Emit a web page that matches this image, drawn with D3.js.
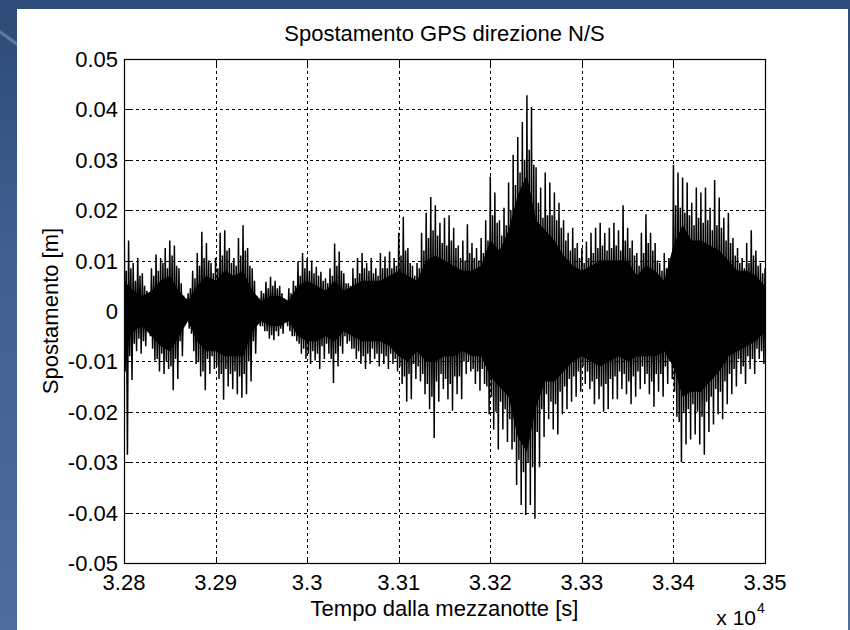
<!DOCTYPE html>
<html>
<head>
<meta charset="utf-8">
<script src="https://cdn.jsdelivr.net/npm/d3@7"></script>
<style>
  body { margin: 0; background: #33517d; }
  svg { display: block; }
  text { font-family: "Liberation Sans", Arial, sans-serif; fill: #000; }
</style>
</head>
<body>
<svg id="chart" width="850" height="630"></svg>
<script>
// time axis (s since midnight) and displacement axis (m)
const xTicks = [32800, 32900, 33000, 33100, 33200, 33300, 33400, 33500];
const xTickLabels = ['3.28', '3.29', '3.3', '3.31', '3.32', '3.33', '3.34', '3.35'];
const yTicks = [-0.05, -0.04, -0.03, -0.02, -0.01, 0, 0.01, 0.02, 0.03, 0.04, 0.05];
const yTickLabels = ['-0.05', '-0.04', '-0.03', '-0.02', '-0.01', '0', '0.01', '0.02', '0.03', '0.04', '0.05'];

// tall spike tips, one pair every 5 s starting at 32800 s
const peakTop = [
  0.0226, 0.0140, 0.0095, 0.0105, 0.0075, 0.0040, 0.0085, 0.0112, 0.0105, 0.0125,
  0.0140, 0.0130, 0.0085, 0.0030, 0.0035, 0.0080, 0.0115, 0.0157, 0.0135, 0.0095,
  0.0105, 0.0155, 0.0160, 0.0125, 0.0105, 0.0145, 0.0170, 0.0125, 0.0085, 0.0030,
  0.0040, 0.0058, 0.0068, 0.0060, 0.0050, 0.0025, 0.0045, 0.0060, 0.0098, 0.0115,
  0.0105, 0.0100, 0.0088, 0.0078, 0.0065, 0.0085, 0.0134, 0.0118, 0.0075, 0.0055,
  0.0085, 0.0105, 0.0115, 0.0095, 0.0105, 0.0085, 0.0115, 0.0108, 0.0118, 0.0105,
  0.0155, 0.0187, 0.0125, 0.0090, 0.0095, 0.0155, 0.0195, 0.0226, 0.0210, 0.0175,
  0.0185, 0.0190, 0.0165, 0.0130, 0.0140, 0.0172, 0.0135, 0.0125, 0.0145, 0.0180,
  0.0267, 0.0235, 0.0180, 0.0205, 0.0255, 0.0310, 0.0345, 0.0375, 0.0428, 0.0405,
  0.0285, 0.0245, 0.0275, 0.0255, 0.0235, 0.0215, 0.0180, 0.0155, 0.0165, 0.0135,
  0.0125, 0.0138, 0.0155, 0.0165, 0.0175, 0.0155, 0.0165, 0.0175, 0.0160, 0.0210,
  0.0165, 0.0140, 0.0115, 0.0155, 0.0192, 0.0155, 0.0135, 0.0095, 0.0115, 0.0105,
  0.0290, 0.0275, 0.0265, 0.0255, 0.0215, 0.0245, 0.0235, 0.0245, 0.0205, 0.0260,
  0.0225, 0.0185, 0.0195, 0.0145, 0.0125, 0.0105, 0.0135, 0.0160, 0.0120, 0.0095,
  0.0085
];
const peakBot = [
  -0.0285, -0.0137, -0.0080, -0.0085, -0.0070, -0.0050, -0.0098, -0.0120, -0.0125, -0.0115,
  -0.0157, -0.0135, -0.0090, -0.0020, -0.0045, -0.0105, -0.0130, -0.0157, -0.0125, -0.0115,
  -0.0135, -0.0176, -0.0150, -0.0155, -0.0165, -0.0172, -0.0165, -0.0140, -0.0085, -0.0030,
  -0.0040, -0.0055, -0.0058, -0.0050, -0.0045, -0.0030, -0.0050, -0.0060, -0.0085, -0.0095,
  -0.0105, -0.0098, -0.0115, -0.0095, -0.0085, -0.0143, -0.0110, -0.0085, -0.0065, -0.0075,
  -0.0095, -0.0105, -0.0115, -0.0105, -0.0095, -0.0110, -0.0105, -0.0115, -0.0105, -0.0120,
  -0.0145, -0.0180, -0.0175, -0.0135, -0.0140, -0.0165, -0.0195, -0.0252, -0.0180, -0.0155,
  -0.0175, -0.0198, -0.0165, -0.0175, -0.0125, -0.0120, -0.0145, -0.0158, -0.0145, -0.0205,
  -0.0235, -0.0275, -0.0235, -0.0260, -0.0275, -0.0345, -0.0385, -0.0405, -0.0385, -0.0412,
  -0.0310, -0.0250, -0.0215, -0.0235, -0.0245, -0.0205, -0.0195, -0.0180, -0.0170, -0.0160,
  -0.0145, -0.0155, -0.0185, -0.0175, -0.0200, -0.0195, -0.0175, -0.0175, -0.0155, -0.0165,
  -0.0185, -0.0170, -0.0155, -0.0145, -0.0165, -0.0190, -0.0160, -0.0170, -0.0145, -0.0135,
  -0.0210, -0.0300, -0.0265, -0.0255, -0.0245, -0.0265, -0.0285, -0.0240, -0.0225, -0.0205,
  -0.0215, -0.0185, -0.0165, -0.0150, -0.0125, -0.0145, -0.0115, -0.0125, -0.0095, -0.0105,
  -0.0060
];

// shorter spikes in between the tall ones, same 5 s spacing
const midTop = [
  0.0080, 0.0085, 0.0060, 0.0070, 0.0050, 0.0035, 0.0070, 0.0080, 0.0095, 0.0085,
  0.0110, 0.0090, 0.0055, 0.0025, 0.0045, 0.0065, 0.0090, 0.0105, 0.0100, 0.0075,
  0.0085, 0.0110, 0.0120, 0.0095, 0.0090, 0.0110, 0.0120, 0.0090, 0.0060, 0.0025,
  0.0035, 0.0045, 0.0050, 0.0045, 0.0035, 0.0020, 0.0035, 0.0050, 0.0070, 0.0085,
  0.0080, 0.0075, 0.0070, 0.0060, 0.0055, 0.0070, 0.0090, 0.0080, 0.0055, 0.0050,
  0.0065, 0.0075, 0.0085, 0.0080, 0.0075, 0.0070, 0.0085, 0.0085, 0.0085, 0.0090,
  0.0110, 0.0120, 0.0095, 0.0070, 0.0085, 0.0120, 0.0145, 0.0160, 0.0150, 0.0135,
  0.0130, 0.0140, 0.0125, 0.0105, 0.0100, 0.0115, 0.0105, 0.0100, 0.0115, 0.0140,
  0.0190, 0.0175, 0.0150, 0.0170, 0.0200, 0.0250, 0.0275, 0.0300, 0.0320, 0.0290,
  0.0215, 0.0185, 0.0190, 0.0190, 0.0180, 0.0165, 0.0140, 0.0120, 0.0125, 0.0105,
  0.0095, 0.0105, 0.0115, 0.0125, 0.0130, 0.0120, 0.0125, 0.0130, 0.0120, 0.0140,
  0.0125, 0.0110, 0.0090, 0.0115, 0.0135, 0.0120, 0.0100, 0.0080, 0.0085, 0.0080,
  0.0210, 0.0205, 0.0195, 0.0190, 0.0170, 0.0185, 0.0175, 0.0180, 0.0160, 0.0170,
  0.0165, 0.0140, 0.0135, 0.0110, 0.0095, 0.0085, 0.0095, 0.0110, 0.0090, 0.0075,
  0.0060
];
const midBot = [
  -0.0120, -0.0090, -0.0065, -0.0055, -0.0060, -0.0040, -0.0075, -0.0095, -0.0085, -0.0100,
  -0.0110, -0.0095, -0.0060, -0.0020, -0.0035, -0.0080, -0.0100, -0.0120, -0.0095, -0.0090,
  -0.0110, -0.0125, -0.0115, -0.0125, -0.0120, -0.0130, -0.0125, -0.0100, -0.0060, -0.0025,
  -0.0030, -0.0040, -0.0048, -0.0040, -0.0035, -0.0022, -0.0040, -0.0050, -0.0065, -0.0075,
  -0.0085, -0.0080, -0.0085, -0.0070, -0.0065, -0.0095, -0.0085, -0.0070, -0.0050, -0.0060,
  -0.0075, -0.0080, -0.0090, -0.0085, -0.0075, -0.0085, -0.0085, -0.0090, -0.0085, -0.0095,
  -0.0110, -0.0130, -0.0125, -0.0105, -0.0110, -0.0125, -0.0145, -0.0170, -0.0140, -0.0125,
  -0.0135, -0.0145, -0.0130, -0.0130, -0.0100, -0.0100, -0.0115, -0.0120, -0.0115, -0.0150,
  -0.0170, -0.0200, -0.0180, -0.0195, -0.0215, -0.0260, -0.0295, -0.0320, -0.0300, -0.0310,
  -0.0240, -0.0195, -0.0165, -0.0180, -0.0185, -0.0160, -0.0150, -0.0135, -0.0130, -0.0120,
  -0.0110, -0.0120, -0.0140, -0.0135, -0.0150, -0.0145, -0.0135, -0.0130, -0.0120, -0.0125,
  -0.0140, -0.0130, -0.0120, -0.0110, -0.0125, -0.0140, -0.0125, -0.0125, -0.0110, -0.0100,
  -0.0160, -0.0220, -0.0200, -0.0195, -0.0185, -0.0200, -0.0210, -0.0180, -0.0170, -0.0155,
  -0.0160, -0.0140, -0.0125, -0.0115, -0.0095, -0.0110, -0.0090, -0.0095, -0.0075, -0.0080,
  -0.0050
];

// solid middle of the trace, one value every 10 s
const coreTop = [
  0.006, 0.004, 0.003, 0.004, 0.006, 0.007, 0.004, 0.002, 0.005, 0.007,
  0.006, 0.008, 0.007, 0.008, 0.004, 0.002, 0.003, 0.003, 0.002, 0.005,
  0.006, 0.005, 0.004, 0.006, 0.004, 0.005, 0.006, 0.006, 0.006, 0.007,
  0.008, 0.007, 0.006, 0.010, 0.011, 0.010, 0.009, 0.008, 0.008, 0.009,
  0.014, 0.012, 0.016, 0.023, 0.027, 0.018, 0.016, 0.014, 0.011, 0.009,
  0.008, 0.009, 0.010, 0.010, 0.010, 0.010, 0.007, 0.009, 0.008, 0.006,
  0.013, 0.017, 0.014, 0.014, 0.013, 0.012, 0.010, 0.008, 0.008, 0.007,
  0.005
];
const coreBot = [
  -0.006, -0.004, -0.003, -0.005, -0.007, -0.008, -0.005, -0.002, -0.006, -0.008,
  -0.008, -0.009, -0.009, -0.009, -0.004, -0.002, -0.003, -0.003, -0.002, -0.005,
  -0.006, -0.006, -0.005, -0.006, -0.004, -0.005, -0.006, -0.006, -0.006, -0.007,
  -0.009, -0.010, -0.008, -0.010, -0.010, -0.009, -0.009, -0.008, -0.009, -0.009,
  -0.013, -0.015, -0.017, -0.025, -0.028, -0.019, -0.014, -0.014, -0.012, -0.010,
  -0.009, -0.010, -0.011, -0.010, -0.009, -0.010, -0.009, -0.009, -0.009, -0.008,
  -0.011, -0.017, -0.016, -0.016, -0.014, -0.012, -0.009, -0.008, -0.007, -0.006,
  -0.004
];

class GpsChart {

  constructor(_config) {
    this.config = {
      parentElement: _config.parentElement,
      width: 850,
      height: 630,
      margin: { top: 59, right: 85, bottom: 67, left: 124 }
    };
    this.initVis();
  }

  initVis() {
    let vis = this;
    let m = vis.config.margin;
    vis.innerWidth = vis.config.width - m.left - m.right;
    vis.innerHeight = vis.config.height - m.top - m.bottom;

    vis.svg = d3.select(vis.config.parentElement);

    // slide background behind the figure
    let defs = vis.svg.append('defs');
    let grad = defs.append('linearGradient')
      .attr('id', 'slideGrad')
      .attr('x1', 0).attr('y1', 0).attr('x2', 0).attr('y2', 1);
    grad.append('stop').attr('offset', '0%').attr('stop-color', '#2d4a76');
    grad.append('stop').attr('offset', '40%').attr('stop-color', '#3f6090');
    grad.append('stop').attr('offset', '100%').attr('stop-color', '#4d6e9c');

    vis.svg.append('rect')
      .attr('width', vis.config.width)
      .attr('height', vis.config.height)
      .attr('fill', 'url(#slideGrad)');
    vis.svg.append('rect')
      .attr('width', vis.config.width)
      .attr('height', 9)
      .attr('fill', '#2e4c79');
    vis.svg.append('path')
      .attr('d', 'M0,30 L17,42 L17,46 L0,34 Z')
      .attr('fill', '#6f8cb5')
      .attr('opacity', 0.7);

    // white figure panel
    vis.svg.append('rect')
      .attr('x', 17).attr('y', 9)
      .attr('width', 831).attr('height', 621)
      .attr('fill', '#fff');

    vis.chart = vis.svg.append('g')
      .attr('transform', `translate(${m.left},${m.top})`);

    vis.xScale = d3.scaleLinear()
      .domain([32800, 33500])
      .range([0, vis.innerWidth]);
    vis.yScale = d3.scaleLinear()
      .domain([-0.05, 0.05])
      .range([vis.innerHeight, 0]);

    defs.append('clipPath')
      .attr('id', 'plotClip')
      .append('rect')
      .attr('width', vis.innerWidth)
      .attr('height', vis.innerHeight);

    vis.renderVis();
  }

  renderVis() {
    let vis = this;
    let w = vis.innerWidth, h = vis.innerHeight;

    // dashed grid under the trace
    vis.chart.append('g')
      .selectAll('line.vgrid')
      .data(xTicks.slice(1, -1))
      .join('line')
      .attr('x1', d => Math.round(vis.xScale(d)) + 0.5)
      .attr('x2', d => Math.round(vis.xScale(d)) + 0.5)
      .attr('y1', 0).attr('y2', h)
      .attr('stroke', '#000')
      .attr('stroke-dasharray', '3,3');
    vis.chart.append('g')
      .selectAll('line.hgrid')
      .data(yTicks.slice(1, -1))
      .join('line')
      .attr('y1', d => Math.round(vis.yScale(d)) + 0.5)
      .attr('y2', d => Math.round(vis.yScale(d)) + 0.5)
      .attr('x1', 0).attr('x2', w)
      .attr('stroke', '#000')
      .attr('stroke-dasharray', '3,3');

    let plot = vis.chart.append('g').attr('clip-path', 'url(#plotClip)');

    // solid middle
    let core = coreTop.map((v, i) => ({ t: 32800 + 10 * i, top: v, bot: coreBot[i] }));
    plot.append('path')
      .datum(core)
      .attr('fill', '#000')
      .attr('d', d3.area()
        .x(d => vis.xScale(d.t))
        .y0(d => vis.yScale(d.bot))
        .y1(d => vis.yScale(d.top)));

    // the trace: tall top, short bottom, short top, tall bottom in each 5 s slot
    let trace = [];
    peakTop.forEach((v, i) => {
      let t = 32800 + 5 * i;
      trace.push({ t: t, v: v });
      trace.push({ t: t + 1.25, v: midBot[i] });
      trace.push({ t: t + 2.5, v: midTop[i] });
      trace.push({ t: t + 3.75, v: peakBot[i] });
    });
    plot.append('path')
      .datum(trace)
      .attr('fill', 'none')
      .attr('stroke', '#000')
      .attr('stroke-width', 1.5)
      .attr('d', d3.line()
        .x(d => vis.xScale(d.t))
        .y(d => vis.yScale(d.v)));

    // axes box with inward ticks on all four sides
    vis.chart.append('rect')
      .attr('x', 0.5).attr('y', 0.5)
      .attr('width', w).attr('height', h)
      .attr('fill', 'none')
      .attr('stroke', '#000')
      .attr('stroke-width', 1.2);

    let tickLen = 6;
    xTicks.forEach(d => {
      let x = Math.round(vis.xScale(d)) + 0.5;
      vis.chart.append('line').attr('x1', x).attr('x2', x).attr('y1', h).attr('y2', h - tickLen).attr('stroke', '#000');
      vis.chart.append('line').attr('x1', x).attr('x2', x).attr('y1', 0).attr('y2', tickLen).attr('stroke', '#000');
    });
    yTicks.forEach(d => {
      let y = Math.round(vis.yScale(d)) + 0.5;
      vis.chart.append('line').attr('x1', 0).attr('x2', tickLen).attr('y1', y).attr('y2', y).attr('stroke', '#000');
      vis.chart.append('line').attr('x1', w).attr('x2', w - tickLen).attr('y1', y).attr('y2', y).attr('stroke', '#000');
    });

    // tick labels
    vis.chart.append('g')
      .selectAll('text')
      .data(xTicks)
      .join('text')
      .attr('x', d => vis.xScale(d))
      .attr('y', h + 27)
      .attr('text-anchor', 'middle')
      .style('font-size', '22px')
      .text((d, i) => xTickLabels[i]);
    vis.chart.append('g')
      .selectAll('text')
      .data(yTicks)
      .join('text')
      .attr('x', -6)
      .attr('y', d => vis.yScale(d) + 8)
      .attr('text-anchor', 'end')
      .style('font-size', '22px')
      .text((d, i) => yTickLabels[i]);

    // titles
    vis.chart.append('text')
      .attr('x', w / 2)
      .attr('y', -18)
      .attr('text-anchor', 'middle')
      .style('font-size', '22px')
      .text('Spostamento GPS direzione N/S');
    vis.chart.append('text')
      .attr('x', w / 2)
      .attr('y', h + 53)
      .attr('text-anchor', 'middle')
      .style('font-size', '22px')
      .text('Tempo dalla mezzanotte [s]');
    vis.chart.append('text')
      .attr('transform', `translate(-66,${h / 2}) rotate(-90)`)
      .attr('text-anchor', 'middle')
      .style('font-size', '22px')
      .text('Spostamento [m]');

    // exponent of the time axis
    vis.chart.append('text')
      .attr('x', w - 9)
      .attr('y', h + 62)
      .attr('text-anchor', 'end')
      .style('font-size', '21px')
      .text('x 10');
    vis.chart.append('text')
      .attr('x', w - 8)
      .attr('y', h + 50)
      .style('font-size', '14px')
      .text('4');
  }
}

new GpsChart({ parentElement: '#chart' });
</script>
</body>
</html>
